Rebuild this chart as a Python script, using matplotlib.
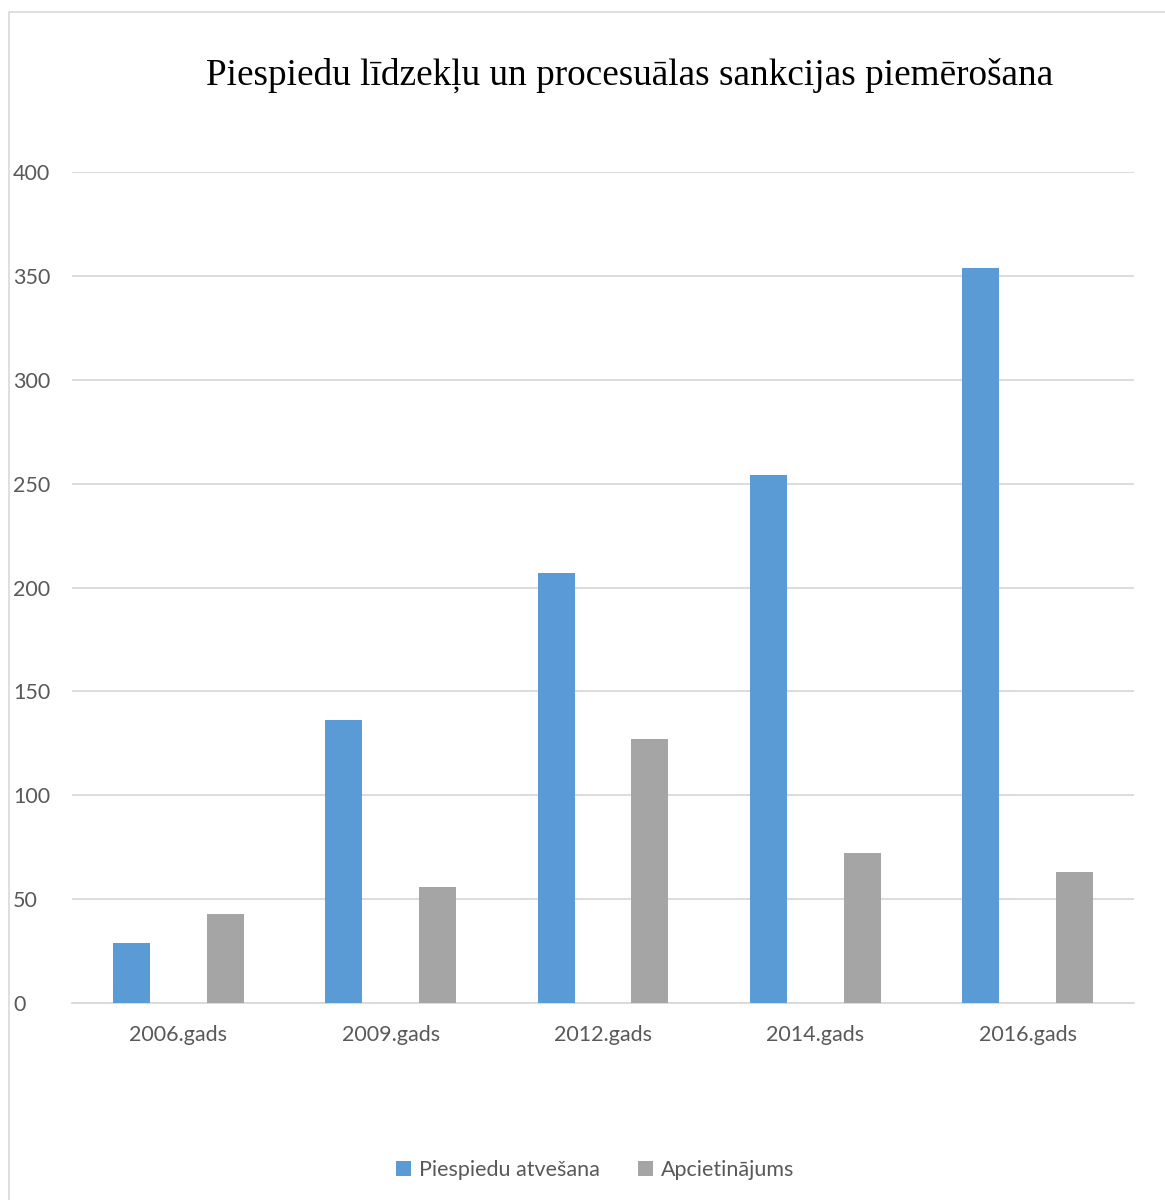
import matplotlib
matplotlib.use("Agg")
import matplotlib.pyplot as plt
import numpy as np
from matplotlib.patches import Rectangle, Patch

categories = ["2006.gads", "2009.gads", "2012.gads", "2014.gads", "2016.gads"]
piespiedu = [29, 136, 207, 254, 354]
apcietinajums = [43, 56, 127, 72, 63]
series_names = ["Piespiedu atvešana", "Apcietinājums"]
yticks = [0, 50, 100, 150, 200, 250, 300, 350, 400]

BLUE = "#5B9BD5"
GRAY = "#A5A5A5"
TXT = "#595959"
GRID = "#D9D9D9"
FONT = ["Lato", "DejaVu Sans"]

fig = plt.figure(figsize=(11.65, 12), dpi=100)
fig.patch.set_facecolor("white")

# outer chart frame
fig.add_artist(Rectangle((9/1165, -0.01), 1.2, 1 - 12/1200 + 0.01, transform=fig.transFigure,
                         fill=False, edgecolor="#D9D9D9", linewidth=1.2))

ax = fig.add_axes([72/1165, 1 - 1003/1200, (1134-72)/1165, (1003-172)/1200])
x = np.arange(len(categories))
w = 0.174
off = 0.221
ax.bar(x - off, piespiedu, width=w, color=BLUE, zorder=3)
ax.bar(x + off, apcietinajums, width=w, color=GRAY, zorder=3)

ax.set_xlim(-0.5, len(categories) - 0.5)
ax.set_ylim(0, 400)
ax.set_yticks(yticks)
ax.set_xticks(x)
ax.set_xticklabels(categories, family=FONT, fontsize=15.5, color=TXT)
ax.set_yticklabels([str(v) for v in yticks], family=FONT, fontsize=15.5, color=TXT)
ax.tick_params(axis="both", length=0)
ax.tick_params(axis="x", pad=16)
for lab in ax.get_yticklabels():
    lab.set_horizontalalignment("left")
ax.tick_params(axis="y", pad=42.5)
ax.grid(axis="y", color=GRID, linewidth=1.3, zorder=0)
for s in ["top", "right", "left"]:
    ax.spines[s].set_visible(False)
ax.spines["bottom"].set_color(GRID)
ax.spines["bottom"].set_linewidth(1.3)

fig.text(630/1165, 1 - 75/1200, "Piespiedu līdzekļu un procesuālas sankcijas piemērošana",
         ha="center", va="center", family=["Liberation Serif", "DejaVu Serif"], fontsize=26.8, color="black")

handles = [Patch(facecolor=BLUE), Patch(facecolor=GRAY)]
leg = fig.legend(handles, series_names, loc="center", bbox_to_anchor=(595/1165, 1 - 1170/1200),
                 ncol=2, frameon=False, prop={"family": FONT, "size": 15.5},
                 handlelength=0.7, handleheight=0.7, handletextpad=0.35, columnspacing=1.8)
for t in leg.get_texts():
    t.set_color(TXT)

fig.savefig("out.png", dpi=100, facecolor="white")
